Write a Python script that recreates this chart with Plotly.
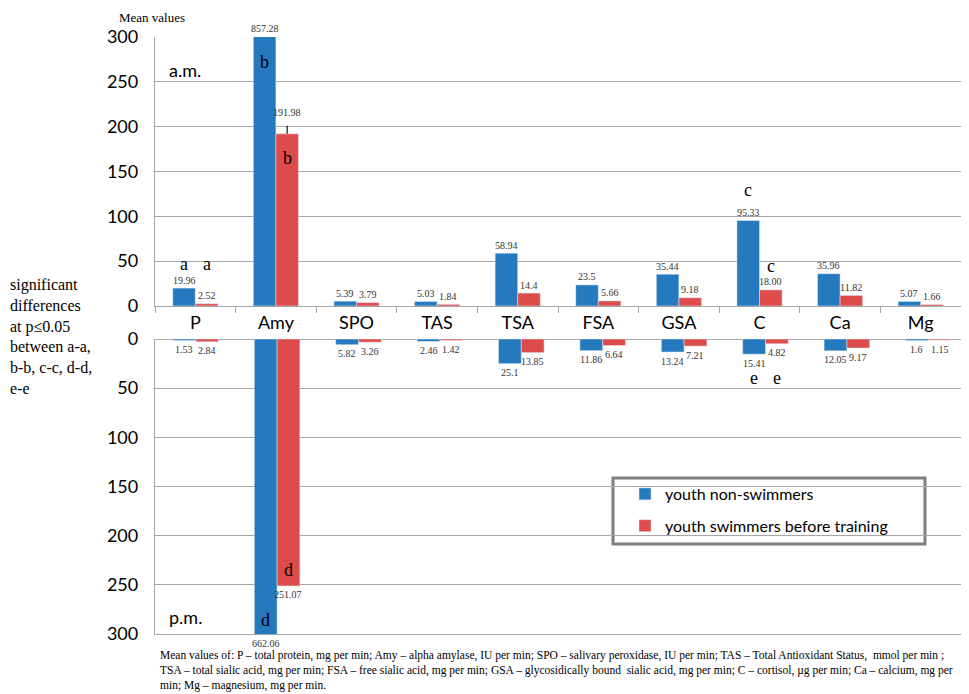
import plotly.graph_objects as go

# data
categories = ["P", "Amy", "SPO", "TAS", "TSA", "FSA", "GSA", "C", "Ca", "Mg"]
am_nonswim = [19.96, 857.28, 5.39, 5.03, 58.94, 23.5, 35.44, 95.33, 35.96, 5.07]
am_swim = [2.52, 191.98, 3.79, 1.84, 14.4, 5.66, 9.18, 18.00, 11.82, 1.66]
pm_nonswim = [1.53, 662.06, 5.82, 2.46, 25.1, 11.86, 13.24, 15.41, 12.05, 1.6]
pm_swim = [2.84, 251.07, 3.26, 1.42, 13.85, 6.64, 7.21, 4.82, 9.17, 1.15]
am_nonswim_txt = ["19.96", "857.28", "5.39", "5.03", "58.94", "23.5", "35.44", "95.33", "35.96", "5.07"]
am_swim_txt = ["2.52", "191.98", "3.79", "1.84", "14.4", "5.66", "9.18", "18.00", "11.82", "1.66"]
pm_nonswim_txt = ["1.53", "662.06", "5.82", "2.46", "25.1", "11.86", "13.24", "15.41", "12.05", "1.6"]
pm_swim_txt = ["2.84", "251.07", "3.26", "1.42", "13.85", "6.64", "7.21", "4.82", "9.17", "1.15"]
am_swim_err = [0, 9, 0, 0, 0, 0, 0, 0, 0, 0]
y_ticks = [0, 50, 100, 150, 200, 250, 300]

BLUE = "#2579be"
RED = "#dd4b4b"
GRID = "#a6a6a6"
SANS = "Lato"
SERIF = "Liberation Serif"
YMAX = 300

# page body has an 8px margin, so the figure is placed at (8, 8)
W, H, OFF = 961, 686, 8


def px(x):
    return (x - OFF) / W


def py(y):
    return 1 - (y - OFF) / H


TOP_X = [155, 961]
BOT_X = [155, 969]
BAR_GAP = 0.44
SHIFT_TOP = (TOP_X[1] - TOP_X[0]) / len(categories) * (1 - BAR_GAP) / 4
SHIFT_BOT = (BOT_X[1] - BOT_X[0]) / len(categories) * (1 - BAR_GAP) / 4

fig = go.Figure()
fig.add_trace(go.Bar(x=categories, y=am_nonswim, marker_color=BLUE, name="youth non-swimmers",
                     legendgroup="a", xaxis="x", yaxis="y"))
fig.add_trace(go.Bar(x=categories, y=am_swim, marker_color=RED, name="youth swimmers before training",
                     legendgroup="b", xaxis="x", yaxis="y",
                     error_y=dict(type="data", symmetric=False, array=am_swim_err,
                                  arrayminus=[0] * len(categories), width=0, thickness=1.3, color="#222")))
fig.add_trace(go.Bar(x=categories, y=pm_nonswim, marker_color=BLUE, showlegend=False,
                     xaxis="x2", yaxis="y2"))
fig.add_trace(go.Bar(x=categories, y=pm_swim, marker_color=RED, showlegend=False,
                     xaxis="x2", yaxis="y2"))

ann = []
# value labels, top panel (above bars)
for vals, txts, side, err in [(am_nonswim, am_nonswim_txt, -1, None),
                               (am_swim, am_swim_txt, 1, am_swim_err)]:
    for i, (c, v, t) in enumerate(zip(categories, vals, txts)):
        top = min(v, YMAX) + (err[i] + 6 if err and err[i] else 0)
        ann.append(dict(x=c, y=top, xref="x", yref="y", text=t, showarrow=False,
                        xshift=side * SHIFT_TOP, yshift=8, font=dict(family=SERIF, size=10, color="#333")))
# value labels, bottom panel (below bars)
for vals, txts, side in [(pm_nonswim, pm_nonswim_txt, -1), (pm_swim, pm_swim_txt, 1)]:
    for c, v, t in zip(categories, vals, txts):
        ann.append(dict(x=c, y=min(v, YMAX), xref="x2", yref="y2", text=t, showarrow=False,
                        xshift=side * SHIFT_BOT, yshift=-9, font=dict(family=SERIF, size=10, color="#333")))

# significance letters
letters = [("x", "y", "P", -1, 47, "a"), ("x", "y", "P", 1, 47, "a"),
           ("x", "y", "Amy", -1, 272, "b"), ("x", "y", "Amy", 1, 165, "b"),
           ("x", "y", "C", -1, 129, "c"), ("x", "y", "C", 1, 45, "c"),
           ("x2", "y2", "Amy", 1, 235, "d"), ("x2", "y2", "Amy", -1, 286, "d"),
           ("x2", "y2", "C", -1, 40, "e"), ("x2", "y2", "C", 1, 40, "e")]
for xr, yr, c, side, yv, t in letters:
    shift = SHIFT_TOP if xr == "x" else SHIFT_BOT
    ann.append(dict(x=c, y=yv, xref=xr, yref=yr, text=t, showarrow=False,
                    xshift=side * shift, font=dict(family=SERIF, size=18, color="black")))

ann += [
    dict(x=px(167), y=py(70), xref="paper", yref="paper", text="a.m.", showarrow=False,
         xanchor="left", yanchor="middle", font=dict(family=SANS, size=18, color="black")),
    dict(x=px(167), y=py(617), xref="paper", yref="paper", text="p.m.", showarrow=False,
         xanchor="left", yanchor="middle", font=dict(family=SANS, size=18, color="black")),
    dict(x=px(117), y=1, xref="paper", yref="paper", text="Mean values", showarrow=False,
         xanchor="left", yanchor="top", font=dict(family=SERIF, size=13, color="black")),
    dict(x=0, y=py(274), xref="paper", yref="paper", yanchor="top", xanchor="left",
         align="left", showarrow=False,
         text="significant<br>differences<br>at p≤0.05<br>between a-a,<br>b-b, c-c, d-d,<br>e-e",
         font=dict(family=SERIF, size=16, color="black")),
    dict(x=px(158), y=py(647), xref="paper", yref="paper", yanchor="top", xanchor="left",
         align="left", showarrow=False,
         text="Mean values of: P – total protein, mg per min; Amy – alpha amylase, IU per min; SPO – salivary peroxidase, IU per min; TAS – Total Antioxidant Status,  mmol per min ;"
              "<br>TSA – total sialic acid, mg per min; FSA – free sialic acid, mg per min; GSA – glycosidically bound  sialic acid, mg per min; C – cortisol, µg per min; Ca – calcium, mg per"
              "<br>min; Mg – magnesium, mg per min.",
         font=dict(family=SERIF, size=11.5, color="black")),
]

axis_common = dict(showgrid=True, gridcolor=GRID, gridwidth=1.3, showline=True, linecolor=GRID,
                   linewidth=1.3, tickvals=y_ticks, range=[0, YMAX], ticklabelstandoff=12,
                   tickfont=dict(family=SANS, size=18, color="black"), zeroline=True,
                   zerolinecolor=GRID, zerolinewidth=1.3, automargin=False)

fig.update_layout(
    width=W, height=H,
    margin=dict(l=0, r=0, t=0, b=0, pad=0),
    paper_bgcolor="white", plot_bgcolor="white",
    barmode="group", bargap=BAR_GAP, bargroupgap=0,
    showlegend=True,
    legend=dict(x=px(625), y=py(477), xanchor="left", yanchor="top",
                bgcolor="rgba(0,0,0,0)", tracegroupgap=8, itemwidth=30,
                font=dict(family=SANS, size=16, color="black")),
    xaxis=dict(domain=[px(TOP_X[0]), px(TOP_X[1])], anchor="y", type="category", showline=True,
               linecolor=GRID, linewidth=1.3, ticks="outside", tickson="boundaries", ticklen=6,
               tickcolor=GRID, automargin=False, tickfont=dict(family=SANS, size=18, color="black")),
    yaxis=dict(domain=[py(306), py(37)], anchor="x", **axis_common),
    xaxis2=dict(domain=[px(BOT_X[0]), min(1, px(BOT_X[1]))], anchor="y2", type="category", showline=True,
                linecolor=GRID, linewidth=1.3, showticklabels=False, ticks="", automargin=False),
    yaxis2=dict(domain=[py(634), py(339)], anchor="x2", autorange=False, **axis_common),
    annotations=ann,
    shapes=[dict(type="rect", xref="paper", yref="paper", x0=px(613), x1=px(925),
                 y0=py(544), y1=py(478), line=dict(color="#7f7f7f", width=3),
                 fillcolor="white", layer="below")],
)
fig.update_layout(yaxis2_range=[YMAX, 0])

fig.write_html("out.html")
